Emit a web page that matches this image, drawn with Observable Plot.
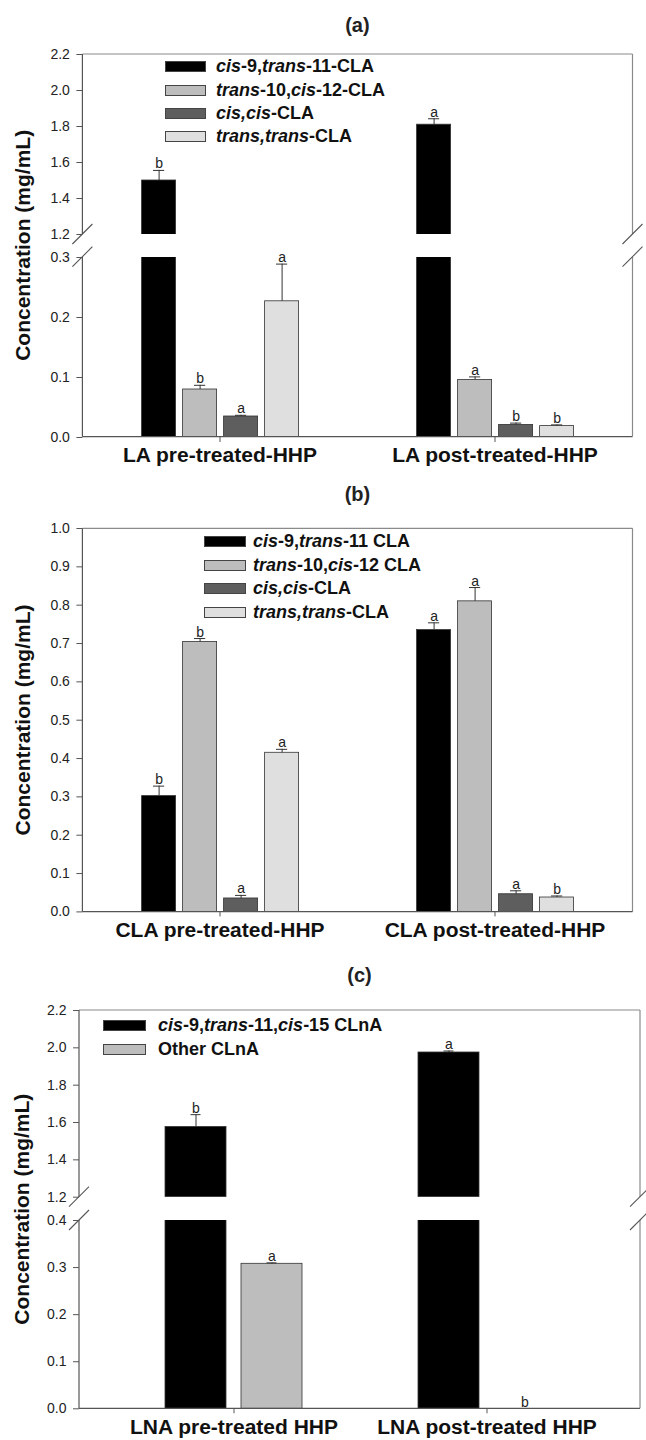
<!DOCTYPE html>
<html><head><meta charset="utf-8">
<script src="https://cdn.jsdelivr.net/npm/d3@7"></script>
<script src="https://cdn.jsdelivr.net/npm/@observablehq/plot@0.6"></script>
<style>
body{margin:0;background:#fff;}
#root{position:relative;width:646px;height:1440px;font-family:"Liberation Sans",Arial,sans-serif;color:#222;overflow:hidden;}
#root > svg, #root > div{position:absolute;}
.title{font-weight:bold;font-size:20px;transform:translate(-50%,-50%);white-space:nowrap;line-height:1;}
.sw{position:absolute;border:1px solid #444;box-sizing:border-box;}
.lab{position:absolute;font-weight:bold;font-size:18px;line-height:1;transform:translateY(-50%);white-space:nowrap;color:#111;}
</style>
</head><body><div id="root"></div>
<script>
// ---------- data ----------
// Panel (a)
const seriesA = ["cis-9,trans-11-CLA", "trans-10,cis-12-CLA", "cis,cis-CLA", "trans,trans-CLA"];
const legendA = ["<i>cis</i>-9,<i>trans</i>-11-CLA", "<i>trans</i>-10,<i>cis</i>-12-CLA", "<i>cis,cis</i>-CLA", "<i>trans,trans</i>-CLA"];
const groupsA = ["LA pre-treated-HHP", "LA post-treated-HHP"];
const valuesA_pre = [1.50, 0.080, 0.035, 0.227];
const valuesA_post = [1.81, 0.096, 0.021, 0.019];
const errorsA_pre = [0.056, 0.007, 0.002, 0.062];
const errorsA_post = [0.033, 0.005, 0.003, 0.002];
const lettersA_pre = ["b", "b", "a", "a"];
const lettersA_post = ["a", "a", "b", "b"];

// Panel (b)
const seriesB = ["cis-9,trans-11 CLA", "trans-10,cis-12 CLA", "cis,cis-CLA", "trans,trans-CLA"];
const legendB = ["<i>cis</i>-9,<i>trans</i>-11 CLA", "<i>trans</i>-10,<i>cis</i>-12 CLA", "<i>cis,cis</i>-CLA", "<i>trans,trans</i>-CLA"];
const groupsB = ["CLA pre-treated-HHP", "CLA post-treated-HHP"];
const valuesB_pre = [0.302, 0.704, 0.035, 0.415];
const valuesB_post = [0.735, 0.810, 0.046, 0.0375];
const errorsB_pre = [0.026, 0.009, 0.008, 0.009];
const errorsB_post = [0.019, 0.036, 0.009, 0.004];
const lettersB_pre = ["b", "b", "a", "a"];
const lettersB_post = ["a", "a", "a", "b"];

// Panel (c)
const seriesC = ["cis-9,trans-11,cis-15 CLnA", "Other CLnA"];
const legendC = ["<i>cis</i>-9,<i>trans</i>-11,<i>cis</i>-15 CLnA", "Other CLnA"];
const groupsC = ["LNA pre-treated HHP", "LNA post-treated HHP"];
const valuesC_pre = [1.576, 0.308];
const valuesC_post = [1.975, 0];
const errorsC_pre = [0.066, 0.002];
const errorsC_post = [0.008, 0];
const lettersC_pre = ["b", "a"];
const lettersC_post = ["a", "b"];

const colors4 = ["#000000", "#bdbdbd", "#5e5e5e", "#dfdfdf"];
const colors2 = ["#000000", "#bdbdbd"];

const titles = ["(a)", "(b)", "(c)"];
const yLabel = "Concentration (mg/mL)";
const ticksA_upper = [1.2, 1.4, 1.6, 1.8, 2.0, 2.2];
const ticksA_lower = [0.0, 0.1, 0.2, 0.3];
const ticksB = [0.0, 0.1, 0.2, 0.3, 0.4, 0.5, 0.6, 0.7, 0.8, 0.9, 1.0];
const ticksC_upper = [1.2, 1.4, 1.6, 1.8, 2.0, 2.2];
const ticksC_lower = [0.0, 0.1, 0.2, 0.3, 0.4];

// ---------- helpers ----------
function table(groups, series, vals, errs, lets) {
  const out = [];
  groups.forEach((g, gi) => series.forEach((s, si) => {
    out.push({group: g, series: s, value: vals[gi][si], err: errs[gi][si], letter: lets[gi][si]});
  }));
  return out;
}

const W = 646;
const root = document.getElementById("root");
const fmt = d3.format(".1f");
const plotStyle = {fontFamily: "Liberation Sans, Arial, sans-serif", background: "transparent", overflow: "visible", color: "#333"};

function place(svg, top) {
  svg.style.position = "absolute";
  svg.style.left = "0px";
  svg.style.top = top + "px";
  root.appendChild(svg);
}

function section(o) {
  const {data, series, colors, groups, domain, ticks, top, bottom, left, right, fxOpts, xOpts, capInset, showFx, marginBottom} = o;
  const mt = 10;
  const h = bottom - top;
  const within = v => v >= domain[0] - 1e-9 && v <= domain[1] + 1e-9;
  const errData = data.filter(d => d.err > 0 && within(d.value) && within(d.value + d.err));
  const letData = data.filter(d => within(d.value + d.err) && (d.value <= domain[1]));
  const marks = [
    Plot.barY(data.filter(d => d.value > 0), {fx: "group", x: "series", y: "value", fill: "series", stroke: "#333", strokeWidth: 0.8, clip: true}),
    Plot.ruleX(errData, {fx: "group", x: "series", y1: "value", y2: d => d.value + d.err, stroke: "#333", strokeWidth: 1}),
    Plot.tickY(errData, {fx: "group", x: "series", y: d => d.value + d.err, insetLeft: capInset, insetRight: capInset, stroke: "#333", strokeWidth: 1}),
    Plot.text(letData, {fx: "group", x: "series", y: d => d.value + d.err, text: "letter", lineAnchor: "bottom", dy: -2, fontSize: 14, fill: "#222"})
  ];
  if (showFx) marks.push(Plot.axisFx({anchor: "bottom", label: null, tickSize: 5, tickPadding: 5, fontSize: 21, fontWeight: "bold", fill: "#111", stroke: "#555"}));
  const common = {
    width: W,
    height: mt + h + marginBottom,
    marginTop: mt,
    marginBottom,
    marginLeft: left,
    marginRight: W - right,
    style: plotStyle
  };
  const svg = Plot.plot(Object.assign({}, common, {
    fx: Object.assign({domain: groups}, fxOpts, showFx ? {} : {axis: null}),
    x: Object.assign({domain: series, axis: null}, xOpts),
    y: {domain, axis: null},
    color: {domain: series, range: colors},
    marks
  }));
  place(svg, top - mt);
  // y axis on the frame's left edge, same y scale
  const ax = Plot.plot(Object.assign({}, common, {
    y: {domain},
    marks: [Plot.axisY({ticks, tickFormat: fmt, tickSize: 6, tickPadding: 7, fontSize: 14, label: null, stroke: "#555", fill: "#222"})]
  }));
  place(ax, top - mt);
}

function legend(labels, colors, swX, labX, rows, swW, swH) {
  labels.forEach((l, i) => {
    const sw = document.createElement("div");
    sw.className = "sw";
    Object.assign(sw.style, {left: swX + "px", top: (rows[i] - swH / 2) + "px", width: swW + "px", height: swH + "px", background: colors[i]});
    root.appendChild(sw);
    const lb = document.createElement("div");
    lb.className = "lab";
    lb.innerHTML = l;
    Object.assign(lb.style, {left: labX + "px", top: rows[i] + "px"});
    root.appendChild(lb);
  });
}

function title(t, x, y) {
  const d = document.createElement("div");
  d.className = "title";
  d.textContent = t;
  Object.assign(d.style, {left: x + "px", top: y + "px"});
  root.appendChild(d);
}

// ---------- layout ----------
const A = {left: 82.4, right: 632.5, uTop: 54, uBot: 234, lTop: 256.7, lBot: 436.7};
const B = {left: 82.4, right: 632.5, top: 528.3, bot: 911.7};
const C = {left: 79, right: 640, uTop: 1010, uBot: 1196.7, lTop: 1220, lBot: 1408.3};

const dataA = table(groupsA, seriesA, [valuesA_pre, valuesA_post], [errorsA_pre, errorsA_post], [lettersA_pre, lettersA_post]);
const dataB = table(groupsB, seriesB, [valuesB_pre, valuesB_post], [errorsB_pre, errorsB_post], [lettersB_pre, lettersB_post]);
const dataC = table(groupsC, seriesC, [valuesC_pre, valuesC_post], [errorsC_pre, errorsC_post], [lettersC_pre, lettersC_post]);

const fx4 = {padding: 0};
const x4 = {paddingInner: 0.18, paddingOuter: 1.43};
const fx2 = {paddingInner: 0, paddingOuter: 0.107};
const x2 = {paddingInner: 0.2, paddingOuter: 0.763};

// Panel a
section({data: dataA, series: seriesA, colors: colors4, groups: groupsA, domain: [1.2, 2.2], ticks: ticksA_upper, top: A.uTop, bottom: A.uBot, left: A.left, right: A.right, fxOpts: fx4, xOpts: x4, capInset: 11.4, showFx: false, marginBottom: 0});
section({data: dataA, series: seriesA, colors: colors4, groups: groupsA, domain: [0, 0.3], ticks: ticksA_lower, top: A.lTop, bottom: A.lBot, left: A.left, right: A.right, fxOpts: fx4, xOpts: x4, capInset: 11.4, showFx: true, marginBottom: 34});
// Panel b
section({data: dataB, series: seriesB, colors: colors4, groups: groupsB, domain: [0, 1.0], ticks: ticksB, top: B.top, bottom: B.bot, left: B.left, right: B.right, fxOpts: fx4, xOpts: x4, capInset: 11.4, showFx: true, marginBottom: 34});
// Panel c
section({data: dataC, series: seriesC, colors: colors2, groups: groupsC, domain: [1.2, 2.2], ticks: ticksC_upper, top: C.uTop, bottom: C.uBot, left: C.left, right: C.right, fxOpts: fx2, xOpts: x2, capInset: 25.5, showFx: false, marginBottom: 0});
section({data: dataC, series: seriesC, colors: colors2, groups: groupsC, domain: [0, 0.4], ticks: ticksC_lower, top: C.lTop, bottom: C.lBot, left: C.left, right: C.right, fxOpts: fx2, xOpts: x2, capInset: 25.5, showFx: true, marginBottom: 31});

// overlay: frame lines, axis breaks, y labels
const ov = d3.select(root).append("svg").attr("width", W).attr("height", 1440)
  .style("position", "absolute").style("left", 0).style("top", 0).style("pointer-events", "none");
function seg(x1, y1, x2, y2, c, w = 1.2) {
  ov.append("line").attr("x1", x1).attr("y1", y1).attr("x2", x2).attr("y2", y2).attr("stroke", c).attr("stroke-width", w);
}
function frameBroken(P) {
  seg(P.left, P.uTop, P.right, P.uTop, "#8a8a8a");
  seg(P.left, P.lBot, P.right, P.lBot, "#555");
  [P.left, P.right].forEach(x => {
    seg(x, P.uTop, x, P.uBot, x === P.left ? "#555" : "#8a8a8a");
    seg(x, P.lTop, x, P.lBot, x === P.left ? "#555" : "#8a8a8a");
    seg(x - 10, P.uBot + 10, x + 10, P.uBot - 10, "#555", 1.1);
    seg(x - 10, P.lTop + 10, x + 10, P.lTop - 10, "#555", 1.1);
  });
}
frameBroken(A);
frameBroken(C);
seg(B.left, B.top, B.right, B.top, "#8a8a8a");
seg(B.right, B.top, B.right, B.bot, "#8a8a8a");
seg(B.left, B.top, B.left, B.bot, "#555");
seg(B.left, B.bot, B.right, B.bot, "#555");

function ylab(x, y) {
  ov.append("text").attr("transform", `translate(${x},${y}) rotate(-90)`)
    .attr("text-anchor", "middle").attr("dominant-baseline", "central")
    .attr("font-family", "Liberation Sans, Arial, sans-serif").attr("font-weight", "bold")
    .attr("font-size", 21).attr("fill", "#111").text(yLabel);
}
ylab(22.7, (A.uTop + A.lBot) / 2);
ylab(22.7, (B.top + B.bot) / 2);
ylab(21, (C.uTop + C.lBot) / 2);

// titles
title(titles[0], (A.left + A.right) / 2, 25);
title(titles[1], (B.left + B.right) / 2, 494);
title(titles[2], (C.left + C.right) / 2, 975);

// legends
legend(legendA, colors4, 165, 216, [66, 90, 113, 136], 41, 11);
legend(legendB, colors4, 204, 253, [541, 565, 588, 612], 42, 11);
legend(legendC, colors2, 103, 158, [1025, 1049], 43, 11);
</script>
</body></html>
